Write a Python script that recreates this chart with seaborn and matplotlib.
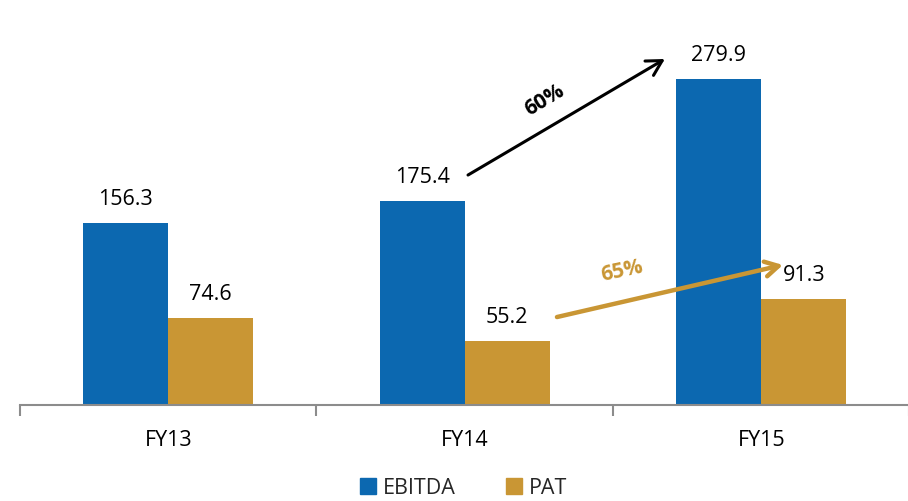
import matplotlib
matplotlib.use("Agg")
import matplotlib.pyplot as plt
import seaborn as sns
import pandas as pd
from matplotlib.lines import Line2D

years = ["FY13", "FY14", "FY15"]
ebitda = [156.3, 175.4, 279.9]
pat = [74.6, 55.2, 91.3]
series_names = ["EBITDA", "PAT"]
growth_labels = ["60%", "65%"]

BLUE = "#0C68B0"
GOLD = "#C99634"
GREY = "#8C8C8C"

sns.set_theme(style="white")
plt.rcParams["font.family"] = ["Open Sans", "DejaVu Sans"]

df = pd.DataFrame({
    "year": years * 2,
    "series": [series_names[0]] * 3 + [series_names[1]] * 3,
    "value": ebitda + pat,
})

fig = plt.figure(figsize=(9.08, 5.02), dpi=100)
ax = fig.add_axes([20 / 908, 96 / 502, 889.5 / 908, 406 / 502])

sns.barplot(data=df, x="year", y="value", hue="series",
            palette=[BLUE, GOLD], width=0.573, gap=0, saturation=1,
            edgecolor="none", legend=False, ax=ax)

ax.set_xlim(-0.5, 2.5)
ax.set_ylim(0, 348.5)

# value labels
for cont in ax.containers:
    ax.bar_label(cont, labels=[f"{b.get_height():.1f}" for b in cont],
                 padding=10, fontsize=15.5, color="black")

# axes styling
for s in ["top", "right", "left"]:
    ax.spines[s].set_visible(False)
ax.spines["bottom"].set_color(GREY)
ax.spines["bottom"].set_linewidth(1.5)
ax.set_yticks([])
ax.set_xlabel("")
ax.set_ylabel("")
ax.tick_params(axis="x", which="major", bottom=False, length=0, pad=17,
               labelsize=15.5, labelcolor="black")
ax.set_xticks([-0.5, 0.5, 1.5, 2.5], minor=True)
ax.tick_params(axis="x", which="minor", bottom=True, length=8, width=1.5,
               color=GREY, direction="out")

# growth arrows
ax.annotate("", xy=(1.675, 297), xytext=(1.011, 197.4),
            arrowprops=dict(arrowstyle="->,head_length=0.9,head_width=0.5",
                            color="black", lw=2.2, shrinkA=0, shrinkB=0))
ax.text(1.27, 262, growth_labels[0], rotation=31, fontsize=15,
        fontweight="bold", color="black", ha="center", va="center")

ax.annotate("", xy=(2.073, 120.2), xytext=(1.311, 75.5),
            arrowprops=dict(arrowstyle="->,head_length=0.8,head_width=0.45",
                            color=GOLD, lw=3.2, shrinkA=0, shrinkB=0))
ax.text(1.53, 116, growth_labels[1], rotation=12, fontsize=15,
        fontweight="bold", color=GOLD, ha="center", va="center")

# legend
handles = [Line2D([0], [0], marker="s", linestyle="none", markersize=11,
                  markerfacecolor=c, markeredgecolor=c)
           for c in (BLUE, GOLD)]
fig.legend(handles, series_names, loc="center", bbox_to_anchor=(462 / 908, 1 - 489 / 502),
           ncol=2, frameon=False, fontsize=15.5, handletextpad=0.2,
           columnspacing=2.2, handlelength=1.0)

fig.savefig("out.png", dpi=100)
